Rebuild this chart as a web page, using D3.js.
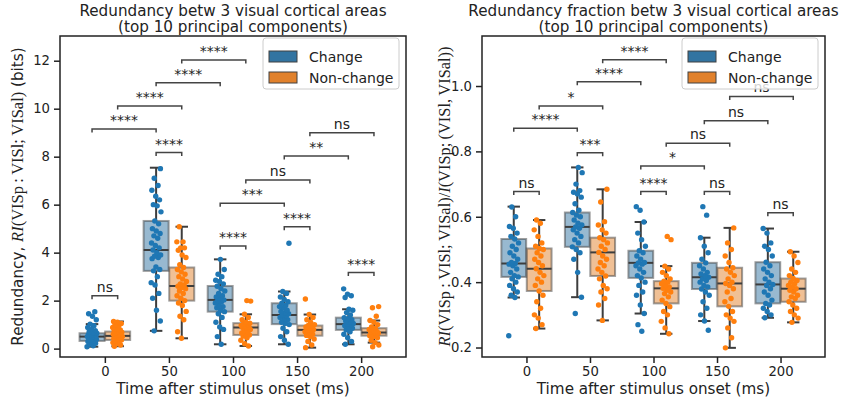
<!DOCTYPE html>
<html>
<head>
<meta charset="utf-8">
<script src="https://cdn.jsdelivr.net/npm/d3@7"></script>
<style>
  body { margin: 0; background: #fff; }
  text { font-family: "DejaVu Sans", sans-serif; }
</style>
</head>
<body>
<div id="chart"></div>
<script>
// ---- data ----
var times = ["0", "50", "100", "150", "200"];
var hues = ["Change", "Non-change"];

// box stats per time: [Change, Non-change], each [whiskerLow, q1, median, q3, whiskerHigh]
var redBoxes = [
  [[0.08, 0.32, 0.50, 0.64, 1.02], [0.10, 0.36, 0.53, 0.71, 1.13]],
  [[0.74, 3.24, 4.11, 5.32, 7.54], [0.43, 2.00, 2.61, 3.38, 5.08]],
  [[0.18, 1.54, 2.03, 2.61, 3.72], [0.11, 0.57, 0.88, 1.06, 1.43]],
  [[0.18, 1.02, 1.40, 1.89, 2.38], [0.04, 0.54, 0.78, 0.96, 1.42]],
  [[0.18, 0.78, 1.02, 1.29, 1.64], [0.25, 0.54, 0.67, 0.85, 1.17]]
];
var fracBoxes = [
  [[0.353, 0.416, 0.457, 0.532, 0.631], [0.258, 0.373, 0.441, 0.503, 0.590]],
  [[0.354, 0.508, 0.569, 0.613, 0.751], [0.283, 0.419, 0.491, 0.536, 0.684]],
  [[0.304, 0.413, 0.459, 0.496, 0.584], [0.242, 0.335, 0.381, 0.403, 0.449]],
  [[0.281, 0.379, 0.415, 0.459, 0.536], [0.199, 0.326, 0.396, 0.444, 0.566]],
  [[0.291, 0.335, 0.393, 0.461, 0.564], [0.277, 0.340, 0.380, 0.411, 0.493]]
];

// individual sessions (stripplot)
var redPoints = [
  [[0.08,0.12,0.18,0.22,0.26,0.3,0.32,0.35,0.38,0.4,0.42,0.45,0.47,0.5,0.5,0.52,0.54,0.56,0.58,0.6,0.62,0.64,0.66,0.7,0.75,0.8,0.88,0.95,1.02,1.2,1.35,1.45,1.54],
   [0.1,0.15,0.2,0.25,0.3,0.34,0.36,0.4,0.42,0.45,0.48,0.5,0.52,0.53,0.55,0.57,0.6,0.62,0.65,0.68,0.71,0.74,0.78,0.82,0.88,0.95,1.0,1.05,1.1,1.13]],
  [[0.74,1.15,1.6,2.1,2.3,2.65,2.75,3.0,3.24,3.3,3.4,3.75,3.8,3.85,3.9,4.0,4.11,4.2,4.3,4.4,4.6,4.7,4.8,4.9,5.0,5.2,5.32,5.7,5.95,6.0,6.2,6.35,6.6,6.8,7.1,7.5],
   [0.43,0.7,1.2,1.35,1.55,1.8,1.9,2.0,2.1,2.2,2.3,2.4,2.5,2.55,2.6,2.65,2.7,2.8,2.9,3.0,3.1,3.2,3.3,3.38,3.5,3.8,3.9,4.1,4.2,4.2,4.45,4.45,5.08]],
  [[0.18,0.5,0.8,0.9,1.1,1.3,1.45,1.54,1.6,1.7,1.75,1.8,1.9,1.95,2.0,2.03,2.1,2.15,2.2,2.3,2.4,2.5,2.6,2.7,2.8,2.85,3.0,3.1,3.3,3.72],
   [0.11,0.2,0.35,0.45,0.52,0.57,0.6,0.65,0.7,0.75,0.8,0.85,0.88,0.9,0.93,0.96,1.0,1.03,1.06,1.1,1.2,1.3,1.43,1.98,2.0]],
  [[0.18,0.35,0.5,0.7,0.85,1.0,1.05,1.1,1.2,1.25,1.3,1.35,1.4,1.45,1.5,1.55,1.6,1.7,1.75,1.8,1.89,1.95,2.05,2.15,2.3,2.38,4.39],
   [0.04,0.15,0.3,0.4,0.5,0.55,0.6,0.65,0.7,0.75,0.78,0.8,0.85,0.9,0.93,0.96,1.0,1.1,1.2,1.3,1.42,2.07]],
  [[0.18,0.3,0.45,0.6,0.7,0.78,0.85,0.9,0.95,1.0,1.02,1.05,1.1,1.15,1.2,1.25,1.29,1.4,1.5,1.6,1.64,2.13,2.2,2.27,2.49],
   [0.08,0.15,0.25,0.35,0.45,0.5,0.54,0.58,0.62,0.65,0.67,0.7,0.72,0.75,0.8,0.85,0.9,1.0,1.1,1.17,1.35,1.7,1.75]]
];
var fracPoints = [
  [[0.236,0.353,0.36,0.37,0.38,0.39,0.4,0.41,0.416,0.42,0.43,0.44,0.45,0.455,0.457,0.46,0.47,0.48,0.49,0.5,0.51,0.52,0.532,0.54,0.55,0.565,0.57,0.6,0.63],
   [0.258,0.27,0.29,0.3,0.32,0.34,0.36,0.373,0.39,0.4,0.41,0.42,0.43,0.441,0.45,0.46,0.47,0.48,0.49,0.5,0.503,0.51,0.52,0.54,0.56,0.58,0.59]],
  [[0.304,0.354,0.43,0.47,0.49,0.5,0.508,0.52,0.53,0.54,0.55,0.56,0.565,0.569,0.575,0.58,0.59,0.6,0.605,0.613,0.62,0.64,0.66,0.67,0.675,0.68,0.7,0.735,0.751],
   [0.283,0.33,0.35,0.37,0.38,0.39,0.41,0.419,0.43,0.44,0.45,0.46,0.47,0.48,0.491,0.5,0.51,0.52,0.53,0.536,0.55,0.56,0.575,0.585,0.645,0.684]],
  [[0.25,0.27,0.304,0.33,0.36,0.37,0.39,0.4,0.413,0.42,0.43,0.44,0.45,0.455,0.459,0.46,0.47,0.48,0.49,0.496,0.51,0.53,0.55,0.584,0.62,0.631],
   [0.242,0.26,0.28,0.3,0.31,0.325,0.335,0.345,0.355,0.365,0.37,0.375,0.381,0.385,0.39,0.395,0.4,0.403,0.41,0.42,0.43,0.44,0.449,0.53,0.54]],
  [[0.253,0.281,0.3,0.32,0.34,0.36,0.37,0.379,0.385,0.39,0.4,0.405,0.41,0.415,0.42,0.425,0.43,0.44,0.45,0.459,0.47,0.49,0.51,0.536,0.605,0.631],
   [0.199,0.23,0.26,0.28,0.29,0.3,0.31,0.326,0.34,0.35,0.37,0.38,0.39,0.396,0.4,0.41,0.42,0.43,0.44,0.444,0.46,0.48,0.5,0.52,0.566]],
  [[0.291,0.3,0.31,0.32,0.33,0.335,0.345,0.36,0.37,0.38,0.39,0.393,0.4,0.41,0.42,0.43,0.44,0.45,0.461,0.48,0.5,0.51,0.52,0.55,0.564],
   [0.277,0.29,0.3,0.31,0.32,0.33,0.34,0.35,0.355,0.36,0.37,0.375,0.38,0.385,0.39,0.395,0.4,0.405,0.411,0.42,0.43,0.44,0.46,0.48,0.493]]
];

// significance brackets: [time1, hue1, time2, hue2, y, label]
var redSig = [
  [1, 1, 2, 1, 12.03, "****"],
  [1, 0, 2, 0, 11.08, "****"],
  [0, 1, 1, 1, 10.11, "****"],
  [0, 0, 1, 0, 9.15, "****"],
  [1, 0, 1, 1, 8.17, "****"],
  [3, 1, 4, 1, 9.0, "ns"],
  [3, 0, 4, 0, 8.03, "**"],
  [2, 1, 3, 1, 7.03, "ns"],
  [2, 0, 3, 0, 6.06, "***"],
  [3, 0, 3, 1, 5.08, "****"],
  [2, 0, 2, 1, 4.28, "****"],
  [4, 0, 4, 1, 3.17, "****"],
  [0, 0, 0, 1, 2.2, "ns"]
];
var fracSig = [
  [1, 1, 2, 1, 1.08, "****"],
  [1, 0, 2, 0, 1.013, "****"],
  [0, 1, 1, 1, 0.939, "*"],
  [0, 0, 1, 0, 0.871, "****"],
  [1, 0, 1, 1, 0.796, "***"],
  [3, 1, 4, 1, 0.968, "ns"],
  [3, 0, 4, 0, 0.894, "ns"],
  [2, 1, 3, 1, 0.825, "ns"],
  [2, 0, 3, 0, 0.755, "*"],
  [2, 0, 2, 1, 0.677, "****"],
  [3, 0, 3, 1, 0.677, "ns"],
  [0, 0, 0, 1, 0.677, "ns"],
  [4, 0, 4, 1, 0.612, "ns"]
];

var redTicks = [0, 2, 4, 6, 8, 10, 12];
var fracTicks = [0.2, 0.4, 0.6, 0.8, 1.0];

// ---- layout ----
var W = 844, H = 402;
var plotTop = 36, plotBottom = 357;
var pointColors = ["#1f77b4", "#ff7f0e"];
var boxColors = ["#3274a1", "#e1812c"];
var dark = "#3d3d3d";
var fsTitle = 15.2, fsTick = 13.2, fsLegend = 14, fsSig = 14;

var svg = d3.select("#chart").append("svg")
  .attr("width", W)
  .attr("height", H);

function drawPanel(p) {
  var g = svg.append("g");
  var x = d3.scaleLinear().domain([-0.7, 4.7]).range([p.left, p.right]);
  var y = d3.scaleLinear().domain(p.yDomain).range([plotBottom, plotTop]);
  var off = 0.2, bw = 0.39;
  function cx(t, h) { return x(t + (h === 0 ? -off : off)); }

  // boxes
  p.boxes.forEach(function(pair, t) {
    pair.forEach(function(s, h) {
      var xc = cx(t, h), half = (x(bw) - x(0)) / 2, capHalf = half / 2;
      // whiskers
      g.append("line").attr("x1", xc).attr("x2", xc).attr("y1", y(s[0])).attr("y2", y(s[1]))
        .attr("stroke", dark).attr("stroke-width", 2);
      g.append("line").attr("x1", xc).attr("x2", xc).attr("y1", y(s[3])).attr("y2", y(s[4]))
        .attr("stroke", dark).attr("stroke-width", 2);
      [s[0], s[4]].forEach(function(v) {
        g.append("line").attr("x1", xc - capHalf).attr("x2", xc + capHalf)
          .attr("y1", y(v)).attr("y2", y(v))
          .attr("stroke", dark).attr("stroke-width", 2);
      });
      g.append("rect")
        .attr("x", xc - half).attr("width", 2 * half)
        .attr("y", y(s[3])).attr("height", y(s[1]) - y(s[3]))
        .attr("fill", boxColors[h]).attr("fill-opacity", 0.5)
        .attr("stroke", "#404040").attr("stroke-opacity", 0.5).attr("stroke-width", 2);
      g.append("line").attr("x1", xc - half).attr("x2", xc + half)
        .attr("y1", y(s[2])).attr("y2", y(s[2]))
        .attr("stroke", dark).attr("stroke-width", 2);
    });
  });

  // strip points with a fixed spread pattern
  p.points.forEach(function(pair, t) {
    pair.forEach(function(vals, h) {
      g.selectAll(null).data(vals).enter().append("circle")
        .attr("cx", function(d, i) { return cx(t, h) + (((i * 0.618034 + t * 0.3 + h * 0.17) % 1) - 0.5) * 10; })
        .attr("cy", function(d) { return y(d); })
        .attr("r", 2.7)
        .attr("fill", pointColors[h]);
    });
  });

  // significance brackets
  p.sig.forEach(function(s) {
    var x1 = cx(s[0], s[1]), x2 = cx(s[2], s[3]), yy = y(s[4]);
    g.append("path")
      .attr("d", "M" + x1 + "," + (yy + 3.5) + "V" + yy + "H" + x2 + "V" + (yy + 3.5))
      .attr("fill", "none").attr("stroke", "#444").attr("stroke-width", 1.5);
    g.append("text")
      .attr("x", (x1 + x2) / 2).attr("y", yy - 4)
      .attr("text-anchor", "middle").attr("font-size", fsSig)
      .attr("fill", "#222")
      .text(s[5]);
  });

  // axes
  var xAxis = g.append("g").attr("transform", "translate(0," + plotBottom + ")")
    .call(d3.axisBottom(x).tickValues([0, 1, 2, 3, 4])
      .tickFormat(function(d) { return times[d]; }).tickSize(6).tickPadding(4));
  var yAxis = g.append("g").attr("transform", "translate(" + p.left + ",0)")
    .call(d3.axisLeft(y).tickValues(p.ticks).tickFormat(p.fmt).tickSize(6).tickPadding(4));
  [xAxis, yAxis].forEach(function(a) {
    a.select(".domain").remove();
    a.selectAll(".tick line").attr("stroke", "#222").attr("stroke-width", 1.5);
    a.selectAll(".tick text").attr("font-size", fsTick).attr("fill", "#222")
      .attr("font-family", "DejaVu Sans");
  });
  g.append("rect")
    .attr("x", p.left).attr("y", plotTop)
    .attr("width", p.right - p.left).attr("height", plotBottom - plotTop)
    .attr("fill", "none").attr("stroke", "#222").attr("stroke-width", 1.5);

  // titles and labels
  var cxMid = (p.left + p.right) / 2;
  p.title.forEach(function(line, i) {
    g.append("text").attr("x", cxMid).attr("y", 15.5 + i * 16)
      .attr("text-anchor", "middle").attr("font-size", fsTitle).attr("fill", "#222").text(line);
  });
  g.append("text").attr("x", cxMid).attr("y", 394)
    .attr("text-anchor", "middle").attr("font-size", fsTitle).attr("fill", "#222")
    .text("Time after stimulus onset (ms)");

  var yl = g.append("text")
    .attr("transform", "translate(" + p.ylabelX + "," + ((plotTop + plotBottom) / 2) + ") rotate(-90)")
    .attr("text-anchor", "middle").attr("font-size", fsTitle).attr("fill", "#222");
  p.ylabel.forEach(function(part) {
    var ts = yl.append("tspan").text(part.t);
    if (part.serif) ts.attr("font-family", "Liberation Serif").attr("font-size", p.serifSize);
    if (part.it) ts.attr("font-style", "italic");
  });

  // legend
  var lg = g.append("g").attr("transform", "translate(" + (p.right - 143) + "," + (plotTop + 2) + ")");
  lg.append("rect").attr("width", 136).attr("height", 51).attr("rx", 3)
    .attr("fill", "#fff").attr("fill-opacity", 0.8)
    .attr("stroke", "#ccc").attr("stroke-width", 1);
  hues.forEach(function(hname, i) {
    lg.append("rect").attr("x", 6).attr("y", 13 + i * 21).attr("width", 28).attr("height", 11)
      .attr("fill", boxColors[i]).attr("stroke", "#404040").attr("stroke-width", 1);
    lg.append("text").attr("x", 46).attr("y", 23.5 + i * 21)
      .attr("font-size", fsLegend).attr("fill", "#222").text(hname);
  });
}

drawPanel({
  left: 60, right: 406,
  yDomain: [-0.35, 13.03],
  ticks: redTicks, fmt: d3.format("d"),
  boxes: redBoxes, points: redPoints, sig: redSig,
  title: ["Redundancy betw 3 visual cortical areas", "(top 10 principal components)"],
  ylabelX: 23, serifSize: 16.5,
  ylabel: [
    { t: "Redundancy, " },
    { t: "RI", serif: true, it: true },
    { t: "(VISp\u2009:\u2009VISl;\u2009VISal)", serif: true },
    { t: " (bits)" }
  ]
});

drawPanel({
  left: 482, right: 825,
  yDomain: [0.171, 1.153],
  ticks: fracTicks, fmt: d3.format(".1f"),
  boxes: fracBoxes, points: fracPoints, sig: fracSig,
  title: ["Redundancy fraction betw 3 visual cortical areas", "(top 10 principal components)"],
  ylabelX: 450, serifSize: 16.4,
  ylabel: [
    { t: "RI", serif: true, it: true },
    { t: "(VISp\u2009:\u2009VISl;\u2009VISal)/", serif: true },
    { t: "I", serif: true, it: true },
    { t: "(VISp;\u2009(VISl,\u2009VISal))", serif: true }
  ]
});
</script>
</body>
</html>
